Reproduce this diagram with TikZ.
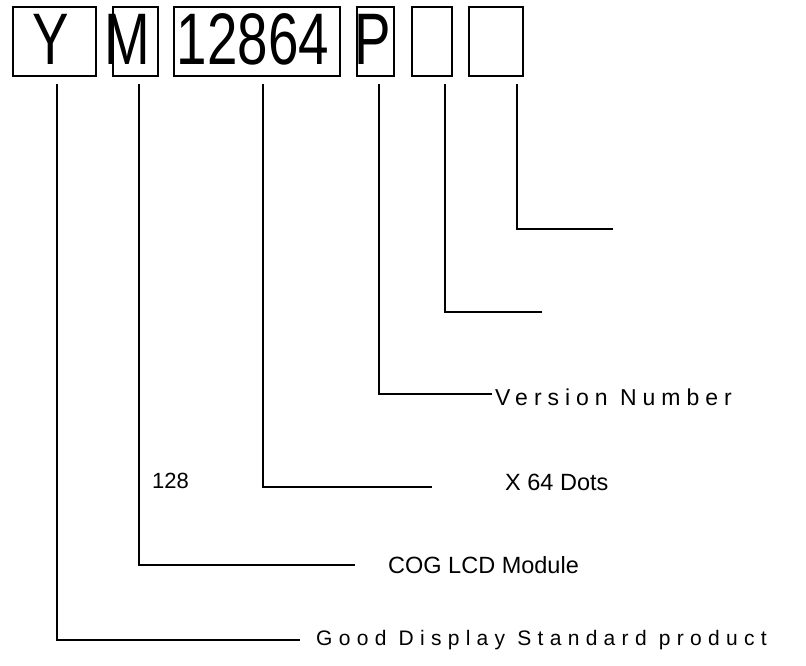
\documentclass[tikz,border=0pt]{standalone}
\usepackage{fontspec}
\setmainfont{Liberation Sans}
\newfontfamily\bigfont[FakeStretch=0.75]{Liberation Sans}
\newfontfamily\spacedfont[LetterSpace=30]{Liberation Sans}
\newfontfamily\versionfont[LetterSpace=26]{Liberation Sans}
\usetikzlibrary{positioning}

\begin{document}
\begin{tikzpicture}[
  x=1pt, y=-1pt,
  cell/.style={rectangle, draw, line width=1.6pt, inner sep=0pt, minimum height=69pt},
  glyph/.style={inner sep=0pt, anchor=base, font=\bigfont\fontsize{73}{73}\selectfont},
  note/.style={inner sep=0pt, anchor=west, font=\fontsize{23.5}{23.5}\selectfont},
  spaced/.style={inner sep=0pt, anchor=west, font=\spacedfont\fontsize{21}{21}\selectfont},
  lead/.style={line width=1.6pt}
]
\useasboundingbox (0,0) rectangle (806,665);

% code boxes
\node[cell, minimum width=83pt] (ybox) at (54.5,41.5) {};
\node[cell, minimum width=45pt] (mbox) at (135.5,41.5) {};
\node[cell, minimum width=166pt] (numbox) at (257,41.5) {};
\node[cell, minimum width=37pt] (pbox) at (375.5,41.5) {};
\node[cell, minimum width=40pt] (blankA) at (432,41.5) {};
\node[cell, minimum width=54pt] (blankB) at (496,41.5) {};

\node[glyph] (ychar) at (51,64) {Y};
\node[glyph] (mchar) at (127.5,64) {M};
\node[glyph] (numchar) at (253,64) {12864};
\node[glyph] (pchar) at (373,64) {P};

% descriptions
\node[spaced] (standard) at (316,640) {Good Display Standard product};
\node[note] (cog) at (388,565) {COG LCD Module};
\node[note, font=\fontsize{22}{22}\selectfont] (dotsA) at (152,481) {128};
\node[note] (dotsB) at (505,482) {X 64 Dots};
\node[spaced, font=\versionfont\fontsize{23}{23}\selectfont] (version) at (495,397) {Version Number};

% leaders
\coordinate (ytop) at (57,84);
\coordinate (mtop) at (139,84);
\coordinate (numtop) at (263,84);
\coordinate (ptop) at (379,84);
\coordinate (atop) at (445,84);
\coordinate (btop) at (517,84);
\coordinate (yend) at (300,640);
\coordinate (mend) at (355,565);
\coordinate (numend) at (432,487);
\coordinate (pend) at (492,394);
\coordinate (aend) at (542,312);
\coordinate (bend) at (613,229);

\draw[lead] (ytop) |- (yend);
\draw[lead] (mtop) |- (mend);
\draw[lead] (numtop) |- (numend);
\draw[lead] (ptop) |- (pend);
\draw[lead] (atop) |- (aend);
\draw[lead] (btop) |- (bend);
\end{tikzpicture}
\end{document}
